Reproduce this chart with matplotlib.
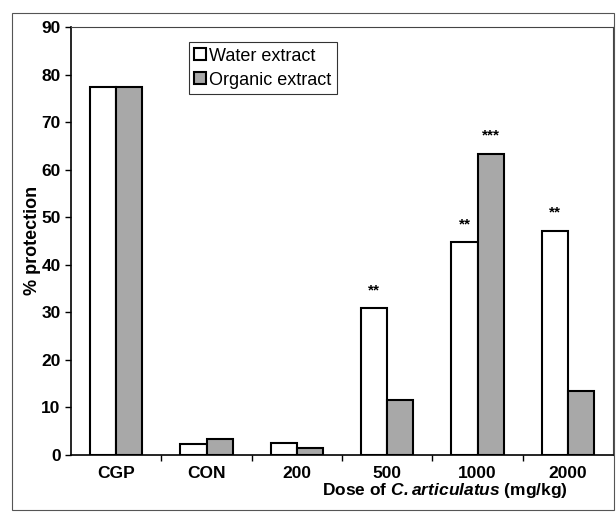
import numpy as np
import matplotlib
matplotlib.use("Agg")
import matplotlib.pyplot as plt
from matplotlib.patches import Rectangle

categories = ["CGP", "CON", "200", "500", "1000", "2000"]
water = [77.5, 2.2, 2.5, 30.8, 44.7, 47.1]
organic = [77.5, 3.2, 1.3, 11.6, 63.3, 13.5]
water_stars = ["", "", "", "**", "**", "**"]
organic_stars = ["", "", "", "", "***", ""]
yticks = [0, 10, 20, 30, 40, 50, 60, 70, 80, 90]

plt.rcParams["font.family"] = ["Liberation Sans", "DejaVu Sans"]
plt.rcParams["mathtext.fontset"] = "custom"
plt.rcParams["mathtext.bfit"] = "Liberation Sans:italic:bold"

fig = plt.figure(figsize=(6.16, 5.12), dpi=100)
ax = fig.add_axes([0.1153, 0.112, 0.88, 0.835])

x = np.arange(len(categories))
w = 0.29
b1 = ax.bar(x - w / 2, water, w, color="white", edgecolor="black",
            linewidth=1.5, label="Water extract")
b2 = ax.bar(x + w / 2, organic, w, color="#a8a8a8", edgecolor="black",
            linewidth=1.5, label="Organic extract")

for bars, stars in ((b1, water_stars), (b2, organic_stars)):
    for rect, s in zip(bars, stars):
        if s:
            ax.annotate(s, (rect.get_x() + rect.get_width() / 2, rect.get_height()),
                        xytext=(0, 8), textcoords="offset points",
                        ha="center", va="bottom", fontsize=11, fontweight="bold")

ax.set_xlim(-0.5, len(categories) - 0.5)
ax.set_ylim(0, 90)
ax.set_yticks(yticks)
ax.set_xticks(x)
ax.set_xticklabels(categories)
ax.set_xticks(np.arange(0.5, len(categories) - 0.5, 1), minor=True)
ax.tick_params(axis="x", which="major", length=0, pad=8, labelsize=12.5)
ax.tick_params(axis="x", which="minor", length=4, width=1)
ax.tick_params(axis="y", length=4, width=1, labelsize=12.5)
for lab in ax.get_xticklabels() + ax.get_yticklabels():
    lab.set_fontweight("bold")

for side in ("top", "right"):
    ax.spines[side].set_linestyle((0, (4, 1)))
    ax.spines[side].set_linewidth(0.8)
    ax.spines[side].set_color("#444444")
ax.spines["left"].set_linewidth(1.2)
ax.spines["bottom"].set_linewidth(1.2)

ax.set_ylabel("% protection", fontsize=13, fontweight="bold")
ax.yaxis.set_label_coords(-0.055, 0.5)
ax.set_xlabel(r"Dose of $\mathbfit{C. articulatus}$ (mg/kg)", fontsize=12.5,
              fontweight="bold")
ax.xaxis.set_label_coords(0.69, -0.062)

leg = ax.legend(loc="upper left", bbox_to_anchor=(0.217, 0.965), fontsize=13,
                frameon=True, fancybox=False, edgecolor="black",
                handlelength=0.65, handleheight=0.65, handletextpad=0.2,
                borderpad=0.3, labelspacing=0.4, borderaxespad=0)
leg.get_frame().set_linewidth(0.8)

fig.patches.append(Rectangle((12 / 616, 2 / 512), 602 / 616, 497 / 512,
                             transform=fig.transFigure, fill=False,
                             edgecolor="#555555", linewidth=0.8))

fig.savefig("out.png", dpi=100)
